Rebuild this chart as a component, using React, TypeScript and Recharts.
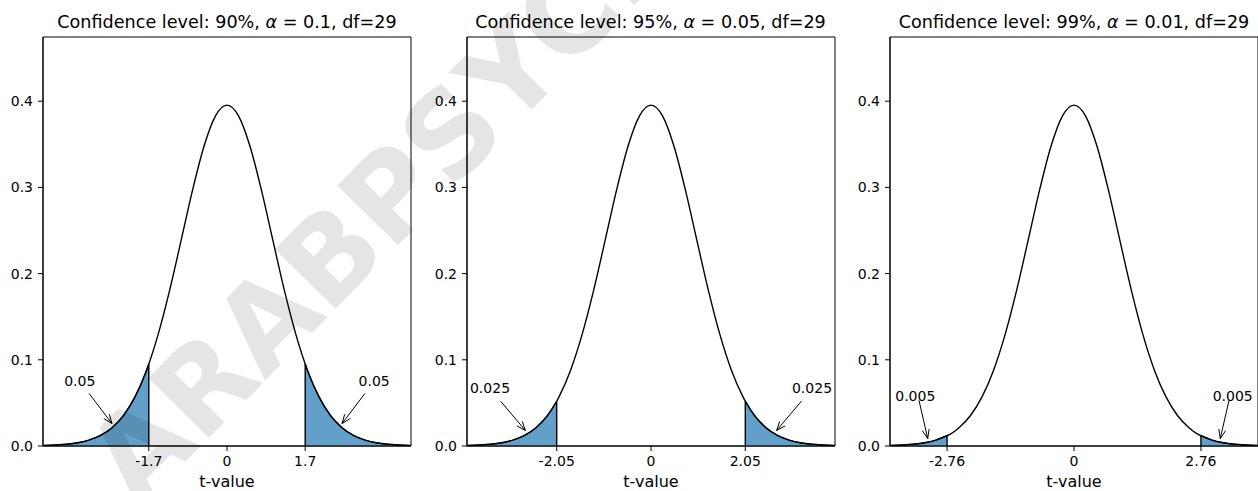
import { ComposedChart, Line, Area, XAxis, YAxis, ReferenceLine, ReferenceArea, ReferenceDot, Label } from 'recharts';

// t distribution, df = 29 (density)
const tGrid = [
  -4, -3.75, -3.5, -3.25, -3, -2.75, -2.5, -2.25, -2, -1.75, -1.5, -1.25, -1, -0.75, -0.5, -0.25,
  0, 0.25, 0.5, 0.75, 1, 1.25, 1.5, 1.75, 2, 2.25, 2.5, 2.75, 3, 3.25, 3.5, 3.75, 4,
];
const density = [
  0.0005, 0.0011, 0.002, 0.0037, 0.0069, 0.0122, 0.0212, 0.0354, 0.057, 0.0877, 0.1289, 0.18, 0.2379, 0.2965, 0.3477, 0.383,
  0.3955, 0.383, 0.3477, 0.2965, 0.2379, 0.18, 0.1289, 0.0877, 0.057, 0.0354, 0.0212, 0.0122, 0.0069, 0.0037, 0.002, 0.0011, 0.0005,
];

const confidenceLevels = [90, 95, 99];
const alphas = ['0.1', '0.05', '0.01'];
const criticalT = [1.7, 2.05, 2.76];
const criticalDensity = [0.0951, 0.0519, 0.012];
const tailAreas = ['0.05', '0.025', '0.005'];
const yTicks = [0, 0.1, 0.2, 0.3, 0.4];

// annotation placement in data units (text centre, arrow start, arrow tip) for the right tail
const notes = [
  { text: [3.2, 0.0757], from: [3.0, 0.061], to: [2.5, 0.026] },
  { text: [3.5, 0.067], from: [3.27, 0.052], to: [2.73, 0.018] },
  { text: [3.45, 0.058], from: [3.37, 0.053], to: [3.18, 0.0086] },
];

const FONT = 'DejaVu Sans';
const FILL = '#1f77b4';
const plotLefts = [43, 466.5, 890];

function Arrow(props: any) {
  const { x1, y1, x2, y2 } = props;
  const dx = x2 - x1;
  const dy = y2 - y1;
  const len = Math.sqrt(dx * dx + dy * dy) || 1;
  const ux = dx / len;
  const uy = dy / len;
  const hl = 9;
  const hw = 3.5;
  const bx = x2 - ux * hl;
  const by = y2 - uy * hl;
  return (
    <g>
      <line x1={x1} y1={y1} x2={x2} y2={y2} stroke="#000" strokeWidth={1} />
      <path
        d={`M${bx - uy * hw},${by + ux * hw} L${x2},${y2} L${bx + uy * hw},${by - ux * hw}`}
        fill="none"
        stroke="#000"
        strokeWidth={1}
      />
    </g>
  );
}

function NoteText(label: string) {
  return (props: any) => (
    <text x={props.cx} y={props.cy} textAnchor="middle" dominantBaseline="central" fontFamily={FONT} fontSize={14} fill="#000">
      {label}
    </text>
  );
}

function Panel({ i }: { i: number }) {
  const c = criticalT[i];
  const cy = criticalDensity[i];
  const rows = tGrid.map((t, k) => ({ t, y: density[k] }));
  rows.push({ t: -c, y: cy }, { t: c, y: cy });
  rows.sort((a, b) => a.t - b.t);
  const data = rows.map(r => ({
    ...r,
    left: r.t <= -c + 1e-9 ? r.y : null,
    right: r.t >= c - 1e-9 ? r.y : null,
  }));
  const n = notes[i];
  const tick = { fill: '#000', fontSize: 14, fontFamily: FONT };

  return (
    <div style={{ position: 'absolute', left: plotLefts[i] - 43, top: 0 }}>
      <ComposedChart width={424} height={491} data={data} margin={{ top: 37, right: 13, bottom: 4, left: 8 }}>
        <XAxis
          dataKey="t"
          type="number"
          domain={[-4, 4]}
          ticks={[-c, 0, c]}
          tickFormatter={(v: number) => String(v)}
          allowDataOverflow
          height={41}
          tick={tick}
          tickSize={5}
          tickMargin={5}
          stroke="#000"
        >
          <Label value="t-value" position="insideBottom" offset={0} fill="#000" fontSize={16} fontFamily={FONT} />
        </XAxis>
        <YAxis
          type="number"
          domain={[0, 0.4745]}
          ticks={yTicks}
          tickFormatter={(v: number) => v.toFixed(1)}
          allowDataOverflow
          width={35}
          tick={tick}
          tickSize={5}
          tickMargin={5}
          stroke="#000"
        />
        <ReferenceArea x1={-4} x2={4} y1={0} y2={0.4745} fill="none" stroke="#000" strokeWidth={1} ifOverflow="extendDomain" />
        <Area type="monotone" dataKey="left" fill={FILL} fillOpacity={0.7} stroke="#000" strokeWidth={1.2} isAnimationActive={false} />
        <Area type="monotone" dataKey="right" fill={FILL} fillOpacity={0.7} stroke="#000" strokeWidth={1.2} isAnimationActive={false} />
        <Line type="monotone" dataKey="y" stroke="#000" strokeWidth={1.4} dot={false} isAnimationActive={false} />
        <ReferenceLine segment={[{ x: -c, y: 0 }, { x: -c, y: cy }]} stroke="#000" strokeWidth={1.4} />
        <ReferenceLine segment={[{ x: c, y: 0 }, { x: c, y: cy }]} stroke="#000" strokeWidth={1.4} />
        {[-1, 1].map(s => (
          <ReferenceLine
            key={`a${s}`}
            segment={[{ x: s * n.from[0], y: n.from[1] }, { x: s * n.to[0], y: n.to[1] }]}
            shape={Arrow}
          />
        ))}
        {[-1, 1].map(s => (
          <ReferenceDot key={`t${s}`} x={s * n.text[0]} y={n.text[1]} r={0} shape={NoteText(tailAreas[i])} />
        ))}
      </ComposedChart>
    </div>
  );
}

export default function App() {
  return (
    <div style={{ position: 'absolute', left: 0, top: 0, width: 1258, height: 491, overflow: 'hidden', background: '#fff' }}>
      {confidenceLevels.map((_, i) => (
        <Panel key={i} i={i} />
      ))}
      <svg width={1258} height={491} style={{ position: 'absolute', left: 0, top: 0, pointerEvents: 'none' }}>
        {confidenceLevels.map((lvl, i) => (
          <text key={i} x={plotLefts[i] + 184} y={28} textAnchor="middle" fontFamily={FONT} fontSize={17.6} fill="#000">
            {`Confidence level: ${lvl}%, `}
            <tspan fontStyle="italic">α</tspan>
            {` = ${alphas[i]}, df=29`}
          </text>
        ))}
        <text
          x={138}
          y={510}
          transform="rotate(-45.5 138 510)"
          fontFamily={FONT}
          fontWeight="bold"
          fontSize={117}
          fill="#000"
          fillOpacity={0.1}
        >
          ARABPSYCHOLOGY
        </text>
      </svg>
    </div>
  );
}
